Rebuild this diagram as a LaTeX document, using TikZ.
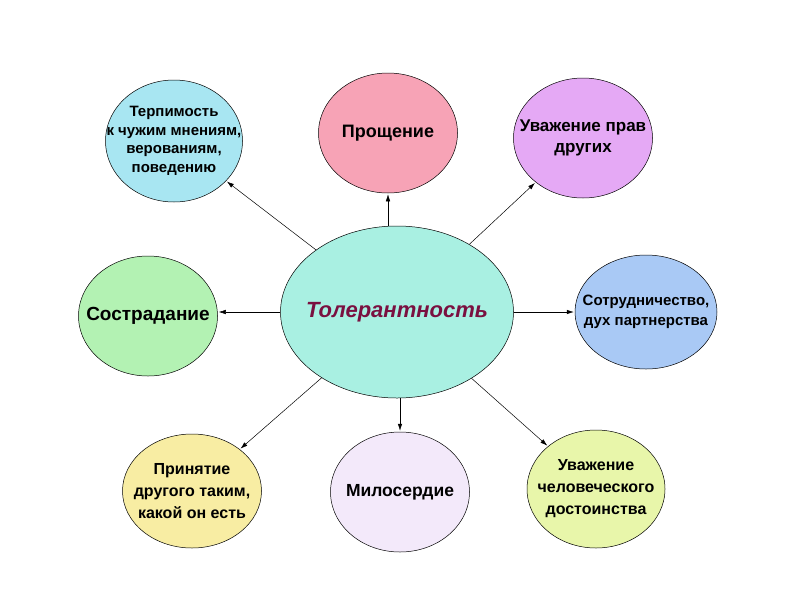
\documentclass[tikz,border=0pt]{standalone}
\usepackage{fontspec}
\setmainfont{Liberation Sans}
\usepackage{xcolor}
\usetikzlibrary{positioning, arrows.meta, shapes.geometric}

\definecolor{tolfill}{HTML}{A9F0E2}
\definecolor{tolink}{HTML}{7A1040}
\definecolor{terpfill}{HTML}{A8E6F2}
\definecolor{proshfill}{HTML}{F7A3B6}
\definecolor{pravfill}{HTML}{E5A9F5}
\definecolor{sostrfill}{HTML}{B3F2B3}
\definecolor{sotrfill}{HTML}{A9C9F5}
\definecolor{prinfill}{HTML}{F8EDA3}
\definecolor{milosfill}{HTML}{F3E9FA}
\definecolor{dostfill}{HTML}{E8F6AA}

\begin{document}
\begin{tikzpicture}[
      x=1pt, y=-1pt,
      bubble/.style={
          draw, ellipse, inner sep=-30pt,
          minimum width=139pt, minimum height=120pt,
          align=center, line width=0.5pt
        },
      core/.style={
          draw, ellipse, inner sep=-30pt,
          minimum width=233pt, minimum height=172pt,
          align=center, line width=0.5pt, fill=tolfill,
          text=tolink, font=\fontsize{22}{26}\selectfont\bfseries\itshape
        },
      arrow/.style={-{Latex[length=7pt, width=4.5pt]}, line width=0.5pt,
          shorten >=1pt}
    ]

    \useasboundingbox (0,0) rectangle (800,600);

    % ── Central notion ──
    \node[core] (tol) at (397,312) {Толерантность};

    % ── Upper row ──
    \node[bubble, fill=terpfill, minimum width=137pt, minimum height=122pt,
      font=\fontsize{15}{18.5}\selectfont\bfseries]
    (terp) at (174,141) {Терпимость\\к чужим мнениям,\\верованиям,\\поведению};
    \node[bubble, fill=proshfill, font=\fontsize{18}{22}\selectfont\bfseries]
    (prosh) at (388,133) {Прощение};
    \node[bubble, fill=pravfill, font=\fontsize{17}{21}\selectfont\bfseries]
    (prav) at (583,138) {Уважение прав\\других};

    % ── Middle row ──
    \node[bubble, fill=sostrfill, font=\fontsize{19}{23}\selectfont\bfseries]
    (sostr) at (148,316) {Сострадание};
    \node[bubble, fill=sotrfill, minimum width=142pt, minimum height=114pt,
      font=\fontsize{15}{20}\selectfont\bfseries]
    (sotr) at (646,312) {Сотрудничество,\\дух партнерства};

    % ── Lower row ──
    \node[bubble, fill=prinfill, minimum height=114pt,
      font=\fontsize{16}{22}\selectfont\bfseries]
    (prin) at (192,491) {Принятие\\другого таким,\\какой он есть};
    \node[bubble, fill=milosfill, font=\fontsize{17.5}{21}\selectfont\bfseries]
    (milos) at (400,492) {Милосердие};
    \node[bubble, fill=dostfill, minimum width=138pt, minimum height=118pt,
      font=\fontsize{16}{22}\selectfont\bfseries]
    (dost) at (596,489) {Уважение\\человеческого\\достоинства};

    % ── Arrows out of the centre ──
    \draw[arrow] (tol) -- (terp);
    \draw[arrow] (tol.north -| prosh) -- (prosh);
    \draw[arrow] (tol) -- (prav);
    \draw[arrow] (tol.west) -- (sostr.east |- tol.west);
    \draw[arrow] (tol.east) -- (sotr.west |- tol.east);
    \draw[arrow] (tol) -- (prin);
    \draw[arrow] (tol.south -| milos) -- (milos);
    \draw[arrow] (tol) -- (dost);

  \end{tikzpicture}
\end{document}
